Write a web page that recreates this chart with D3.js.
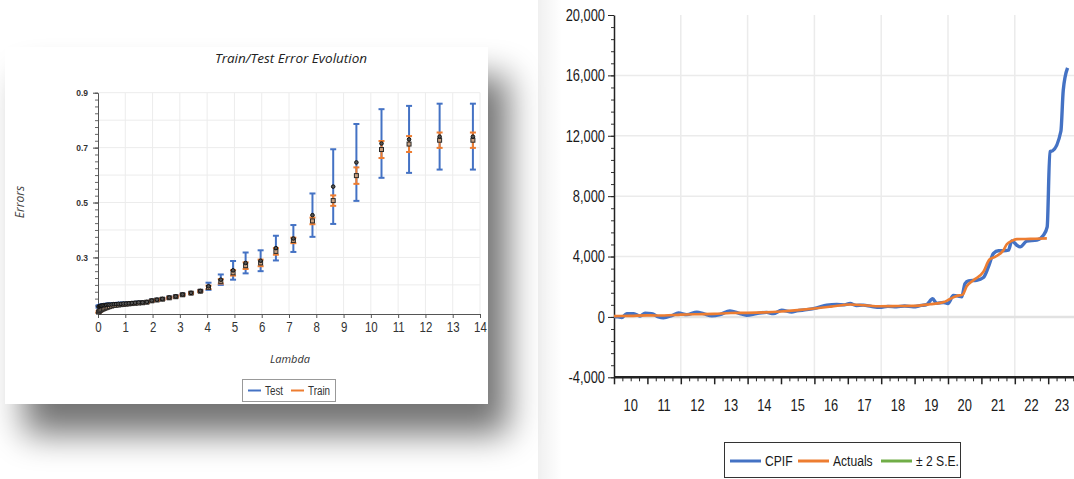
<!DOCTYPE html>
<html>
<head>
<meta charset="utf-8">
<script src="https://cdn.jsdelivr.net/npm/d3@7"></script>
<style>
  body { margin: 0; background: #fff; }
  svg { display: block; }
</style>
</head>
<body>
<svg id="page" width="1074" height="479"></svg>
<script>
// ---------- left panel data : train / test error vs lambda ----------
var lambdas = [0.02,0.05,0.08,0.11,0.15,0.2,0.25,0.3,0.36,0.42,
               0.5,0.58,0.66,0.75,0.84,0.93,1.03,1.13,1.24,1.36,
               1.49,1.63,1.79,1.97,2.16,2.36,2.61,2.85,3.1,3.41,
               3.75,4.05,4.5,4.95,5.41,5.96,6.52,7.16,7.86,8.62,
               9.47,10.39,11.4,12.52,13.74];
var testErr = [0.121,0.122,0.123,0.124,0.125,0.126,0.126,0.127,0.128,0.128,
               0.129,0.13,0.13,0.131,0.131,0.132,0.132,0.133,0.134,0.135,
               0.136,0.136,0.138,0.143,0.146,0.149,0.154,0.158,0.165,0.171,
               0.178,0.195,0.219,0.253,0.28,0.288,0.334,0.369,0.454,0.558,
               0.646,0.715,0.73,0.74,0.74];
var testSE = [0.004,0.004,0.004,0.004,0.004,0.004,0.004,0.004,0.004,0.004,
              0.004,0.004,0.004,0.004,0.004,0.004,0.003,0.003,0.003,0.003,
              0.003,0.003,0.003,0.003,0.003,0.003,0.003,0.003,0.003,0.003,
              0.003,0.013,0.019,0.034,0.038,0.038,0.045,0.049,0.079,0.136,
              0.14,0.125,0.122,0.12,0.12];
var trainErr = [0.101,0.104,0.107,0.109,0.111,0.113,0.115,0.117,0.119,0.121,
                0.123,0.125,0.126,0.127,0.128,0.129,0.13,0.131,0.132,0.133,
                0.134,0.135,0.137,0.142,0.145,0.148,0.153,0.157,0.164,0.17,
                0.177,0.191,0.213,0.244,0.27,0.28,0.322,0.362,0.433,0.507,
                0.598,0.693,0.713,0.727,0.727];
var trainSE = [0.003,0.003,0.003,0.003,0.003,0.003,0.003,0.003,0.003,0.003,
               0.003,0.003,0.003,0.003,0.003,0.003,0.003,0.003,0.003,0.003,
               0.003,0.003,0.003,0.003,0.003,0.003,0.003,0.003,0.003,0.003,
               0.003,0.006,0.008,0.01,0.012,0.012,0.012,0.01,0.012,0.019,
               0.03,0.031,0.029,0.028,0.028];
var lambdaTicks = [0,1,2,3,4,5,6,7,8,9,10,11,12,13,14];
var errTicks = [0.3,0.5,0.7,0.9];
var errGrid = [0.2,0.3,0.4,0.5,0.6,0.7,0.8,0.9];

// ---------- right panel data : CPIF vs actuals ----------
var cpifDates = [2010.0,2010.12,2010.23,2010.38,2010.58,2010.7,2010.78,2010.93,2011.13,2011.33,
                 2011.48,2011.73,2011.93,2012.18,2012.48,2012.68,2012.93,2013.17,2013.47,2013.77,
                 2013.97,2014.27,2014.57,2014.77,2015.02,2015.32,2015.47,2015.77,2016.07,2016.37,
                 2016.67,2016.9,2017.07,2017.25,2017.46,2017.7,2017.96,2018.2,2018.46,2018.7,
                 2018.96,2019.2,2019.36,2019.54,2019.66,2019.86,2020.0,2020.16,2020.3,2020.41,
                 2020.51,2020.61,2020.86,2021.06,2021.21,2021.36,2021.51,2021.66,2021.81,2021.91,
                 2022.06,2022.16,2022.36,2022.66,2022.86,2022.97,2023.05,2023.13,2023.38,2023.45,
                 2023.58];
var cpifValues = [30,0,-40,220,220,120,60,240,220,0,
                  -60,90,260,150,320,220,70,150,400,220,
                  110,220,300,220,440,330,400,480,600,780,
                  820,800,890,760,780,700,630,700,670,720,
                  670,760,820,1200,900,960,880,1420,1380,1330,
                  2210,2390,2430,2610,3320,4200,4380,4380,4420,5040,
                  4750,4640,5020,5090,5420,5970,10950,11000,12300,15000,
                  16500];
var actualDates = [2010.0,2010.5,2011.0,2011.5,2012.0,2012.5,2013.0,2013.5,2014.0,2014.5,
                   2015.0,2015.5,2016.0,2016.5,2017.07,2017.5,2017.96,2018.5,2018.96,2019.46,
                   2019.86,2020.06,2020.26,2020.44,2020.56,2020.76,2021.06,2021.24,2021.41,2021.66,
                   2021.76,2021.91,2022.06,2022.46,2022.96];
var actualValues = [50,70,100,90,150,180,200,260,270,300,
                    360,450,560,680,820,770,710,720,730,840,
                    970,1190,1390,1480,2030,2430,2990,3800,3980,4420,
                    4810,5040,5150,5170,5200];
var yearLabels = ["10","11","12","13","14","15","16","17","18","19","20","21","22","23"];
var cpifTicks = [-4000,0,4000,8000,12000,16000,20000];

var blue = "#4472C4", orange = "#ED7D31", green = "#70AD47";
var sans = "'Liberation Sans', Arial, sans-serif";

// squeeze Liberation Sans to a narrow face
function narrowText(sel, k) {
  sel.style("font-family", sans).each(function(){
    var w = this.getComputedTextLength();
    d3.select(this)
      .attr("textLength", w * (k || 0.82))
      .attr("lengthAdjust", "spacingAndGlyphs");
  });
}

var svg = d3.select("#page");
var defs = svg.append("defs");

defs.append("filter")
    .attr("id", "blur")
    .attr("x", "-30%").attr("y", "-30%")
    .attr("width", "160%").attr("height", "160%")
    .append("feGaussianBlur")
    .attr("stdDeviation", 17);

var fade = defs.append("linearGradient").attr("id", "fade");
fade.append("stop").attr("offset", "0%").attr("stop-color", "#000").attr("stop-opacity", 0.06);
fade.append("stop").attr("offset", "100%").attr("stop-color", "#000").attr("stop-opacity", 0);

// faint edge on the left of the right picture
svg.append("rect")
   .attr("x", 538).attr("y", 0)
   .attr("width", 24).attr("height", 479)
   .attr("fill", "url(#fade)");

////////////////////////////////////////////////////////////////////////
////////////////////////  LEFT PANEL  //////////////////////////////////
////////////////////////////////////////////////////////////////////////

function drawLeft() {

  // drop shadow + card
  svg.append("rect")
     .attr("x", 24).attr("y", 76)
     .attr("width", 484).attr("height", 358)
     .attr("fill", "#000")
     .attr("opacity", 0.55)
     .attr("filter", "url(#blur)");

  svg.append("rect")
     .attr("x", 5).attr("y", 47)
     .attr("width", 483).attr("height", 357)
     .attr("fill", "#fff");

  var g = svg.append("g");

  var x = d3.scaleLinear().domain([0, 14]).range([98, 480]);
  var y = d3.scaleLinear().domain([0.094, 0.9]).range([314, 92.7]);

  // grid
  g.append("g").selectAll("line")
   .data(lambdaTicks.slice(1))
   .enter().append("line")
   .attr("x1", function(d){ return x(d) }).attr("x2", function(d){ return x(d) })
   .attr("y1", y(0.9)).attr("y2", y.range()[0])
   .attr("stroke", "#ececec").attr("stroke-width", 1);

  g.append("g").selectAll("line")
   .data(errGrid)
   .enter().append("line")
   .attr("x1", x(0)).attr("x2", x(14))
   .attr("y1", function(d){ return y(d) }).attr("y2", function(d){ return y(d) })
   .attr("stroke", "#ececec").attr("stroke-width", 1);

  // axes
  var xAxis = g.append("g")
               .attr("transform", "translate(0," + y.range()[0] + ")")
               .call(d3.axisBottom(x).tickValues(lambdaTicks).tickSize(4).tickSizeOuter(0));
  xAxis.select(".domain").attr("stroke", "#555");
  xAxis.selectAll(".tick line").attr("stroke", "#555");
  xAxis.selectAll("text")
       .attr("y", 8)
       .style("font-size", "14px")
       .attr("fill", "#333")
       .call(narrowText);

  g.append("g")
   .attr("transform", "translate(" + x(0) + ",0)")
   .call(d3.axisLeft(y).tickValues(d3.range(0.1, 0.901, 0.025)).tickSize(3).tickFormat(""))
   .call(function(a){ a.select(".domain").remove() })
   .selectAll("line").attr("stroke", "#666");

  var yAxis = g.append("g")
               .attr("transform", "translate(" + x(0) + ",0)")
               .call(d3.axisLeft(y).tickValues(errTicks).tickSize(5).tickSizeOuter(0).tickFormat(d3.format(".1f")));
  yAxis.select(".domain").attr("stroke", "#555");
  yAxis.selectAll(".tick line").attr("stroke", "#444");
  yAxis.selectAll("text")
       .attr("x", -10)
       .style("font-family", sans)
       .style("font-size", "8.5px")
       .style("font-weight", "bold")
       .attr("fill", "#333");

  // error bars
  var pts = lambdas.map(function(l, i){
    return {l: l, t: testErr[i], ts: testSE[i], r: trainErr[i], rs: trainSE[i]};
  });

  function bars(col, key, se) {
    var b = g.append("g").selectAll("g")
             .data(pts).enter().append("g")
             .attr("stroke", col).attr("stroke-width", 2);
    b.append("line")
     .attr("x1", function(d){ return x(d.l) }).attr("x2", function(d){ return x(d.l) })
     .attr("y1", function(d){ return y(d[key] - d[se]) })
     .attr("y2", function(d){ return y(d[key] + d[se]) });
    [-1, 1].forEach(function(s){
      b.append("line")
       .attr("x1", function(d){ return x(d.l) - 3 }).attr("x2", function(d){ return x(d.l) + 3 })
       .attr("y1", function(d){ return y(d[key] + s * d[se]) })
       .attr("y2", function(d){ return y(d[key] + s * d[se]) });
    });
  }
  bars(blue, "t", "ts");
  bars(orange, "r", "rs");

  g.append("g").selectAll("rect")
   .data(pts).enter().append("rect")
   .attr("x", function(d){ return x(d.l) - 2 })
   .attr("y", function(d){ return y(d.r) - 2 })
   .attr("width", 4).attr("height", 4)
   .attr("fill", "#c8a080").attr("stroke", "#2a2a2a").attr("stroke-width", 1);

  g.append("g").selectAll("circle")
   .data(pts).enter().append("circle")
   .attr("cx", function(d){ return x(d.l) })
   .attr("cy", function(d){ return y(d.t) })
   .attr("r", 1.8)
   .attr("fill", "#555").attr("stroke", "#111").attr("stroke-width", 1);

  // titles
  g.append("text")
   .attr("x", 291).attr("y", 63)
   .attr("text-anchor", "middle")
   .style("font-family", "'Open Sans', sans-serif")
   .style("font-style", "italic")
   .style("font-size", "13.5px")
   .attr("fill", "#222")
   .text("Train/Test Error Evolution");

  g.append("text")
   .attr("x", 290).attr("y", 363)
   .attr("text-anchor", "middle")
   .style("font-family", "'Open Sans', sans-serif")
   .style("font-style", "italic")
   .style("font-size", "11px")
   .attr("fill", "#333")
   .text("Lambda");

  g.append("text")
   .attr("transform", "translate(24,202) rotate(-90)")
   .attr("text-anchor", "middle")
   .style("font-family", "'Open Sans', sans-serif")
   .style("font-style", "italic")
   .style("font-size", "12px")
   .attr("fill", "#444")
   .text("Errors");

  // legend
  var lg = g.append("g");
  lg.append("rect")
    .attr("x", 242.5).attr("y", 379.5)
    .attr("width", 93).attr("height", 22)
    .attr("fill", "#fff").attr("stroke", "#999");
  var items = [{s: "Test", c: blue, x: 248}, {s: "Train", c: orange, x: 291}];
  var it = lg.selectAll("g.item").data(items).enter().append("g");
  it.append("line")
    .attr("x1", function(d){ return d.x }).attr("x2", function(d){ return d.x + 13 })
    .attr("y1", 390.5).attr("y2", 390.5)
    .attr("stroke", function(d){ return d.c }).attr("stroke-width", 2);
  it.append("text")
    .attr("x", function(d){ return d.x + 17 }).attr("y", 394.5)
    .style("font-size", "12px")
    .attr("fill", "#333")
    .text(function(d){ return d.s })
    .call(narrowText);
}

////////////////////////////////////////////////////////////////////////
////////////////////////  RIGHT PANEL  /////////////////////////////////
////////////////////////////////////////////////////////////////////////

function drawRight() {

  var g = svg.append("g");
  var x = d3.scaleLinear().domain([2010, 2023.75]).range([614, 1073.25]);
  var y = d3.scaleLinear().domain([-4000, 20000]).range([377.3, 15]);
  var fmt = d3.format(",");

  // grid
  g.append("g").selectAll("line")
   .data([2012, 2014, 2016, 2018, 2020, 2022])
   .enter().append("line")
   .attr("x1", function(d){ return x(d) }).attr("x2", function(d){ return x(d) })
   .attr("y1", y(20000)).attr("y2", y(-4000))
   .attr("stroke", "#ebebeb").attr("stroke-width", 1.5);

  g.append("g").selectAll("line")
   .data(cpifTicks.slice(1, 6))
   .enter().append("line")
   .attr("x1", x(2010)).attr("x2", 1074)
   .attr("y1", function(d){ return y(d) }).attr("y2", function(d){ return y(d) })
   .attr("stroke", function(d){ return d == 0 ? "#e2e2e2" : "#ebebeb" })
   .attr("stroke-width", function(d){ return d == 0 ? 2.5 : 1.5 });

  // y axis
  g.append("g")
   .attr("transform", "translate(" + x(2010) + ",0)")
   .call(d3.axisLeft(y).tickValues(d3.range(-4000, 20001, 800)).tickSize(3).tickFormat(""))
   .call(function(a){ a.select(".domain").remove() })
   .selectAll("line").attr("stroke", "#333");

  var yAxis = g.append("g")
               .attr("transform", "translate(" + x(2010) + ",0)")
               .call(d3.axisLeft(y).tickValues(cpifTicks).tickSize(6).tickSizeOuter(0)
                       .tickFormat(function(d){ return fmt(d).replace("\u2212", "-") }));
  yAxis.select(".domain").attr("stroke", "#222").attr("stroke-width", 1.5);
  yAxis.selectAll(".tick line").attr("stroke", "#222");
  yAxis.selectAll("text")
       .attr("x", -9)
       .style("font-size", "16.5px")
       .attr("fill", "#1a1a1a")
       .call(narrowText, 0.78);

  // x axis
  var quarters = d3.range(0, 13.76 * 4).map(function(q){ return 2010 + q / 4 });
  g.append("g")
   .attr("transform", "translate(0," + y(-4000) + ")")
   .call(d3.axisBottom(x).tickValues(quarters.filter(function(d){ return d % 1 != 0 })).tickSize(4).tickFormat(""))
   .call(function(a){ a.select(".domain").remove() })
   .selectAll("line").attr("stroke", "#222");

  var xAxis = g.append("g")
               .attr("transform", "translate(0," + y(-4000) + ")")
               .call(d3.axisBottom(x).tickValues(d3.range(2010, 2024)).tickSize(7).tickSizeOuter(0).tickFormat(""));
  xAxis.select(".domain").attr("stroke", "#222").attr("stroke-width", 2.5)
       .attr("d", "M" + x(2010) + ",0H1074");
  xAxis.selectAll(".tick line").attr("stroke", "#222").attr("stroke-width", 1.5);

  g.append("g").selectAll("text")
   .data(yearLabels)
   .enter().append("text")
   .attr("x", function(d, i){ return Math.min(x(2010.5 + i), 1062) })
   .attr("y", 411)
   .attr("text-anchor", "middle")
   .style("font-size", "16.5px")
   .attr("fill", "#1a1a1a")
   .text(function(d){ return d })
   .call(narrowText, 0.78);

  // lines
  var line = d3.line()
               .x(function(d){ return x(d[0]) })
               .y(function(d){ return y(d[1]) })
               .curve(d3.curveMonotoneX);

  g.append("path")
   .datum(cpifDates.map(function(d, i){ return [d, cpifValues[i]] }))
   .attr("d", line)
   .attr("fill", "none")
   .attr("stroke", blue)
   .attr("stroke-width", 3.4)
   .attr("stroke-linejoin", "round");

  g.append("path")
   .datum(actualDates.map(function(d, i){ return [d, actualValues[i]] }))
   .attr("d", line)
   .attr("fill", "none")
   .attr("stroke", orange)
   .attr("stroke-width", 2.6)
   .attr("stroke-linejoin", "round");

  // legend
  var lg = g.append("g");
  lg.append("rect")
    .attr("x", 724.5).attr("y", 442.5)
    .attr("width", 236).attr("height", 35)
    .attr("fill", "#fff").attr("stroke", "#333");
  var items = [{s: "CPIF", c: blue, x: 730}, {s: "Actuals", c: orange, x: 798}, {s: "± 2 S.E.", c: green, x: 881}];
  var it = lg.selectAll("g.item").data(items).enter().append("g");
  it.append("line")
    .attr("x1", function(d){ return d.x }).attr("x2", function(d){ return d.x + 31 })
    .attr("y1", 461).attr("y2", 461)
    .attr("stroke", function(d){ return d.c }).attr("stroke-width", 3);
  it.append("text")
    .attr("x", function(d){ return d.x + 35 }).attr("y", 466)
    .style("font-size", "15.5px")
    .attr("fill", "#1a1a1a")
    .text(function(d){ return d.s })
    .call(narrowText, 0.78);
}

drawLeft();
drawRight();
</script>
</body>
</html>
